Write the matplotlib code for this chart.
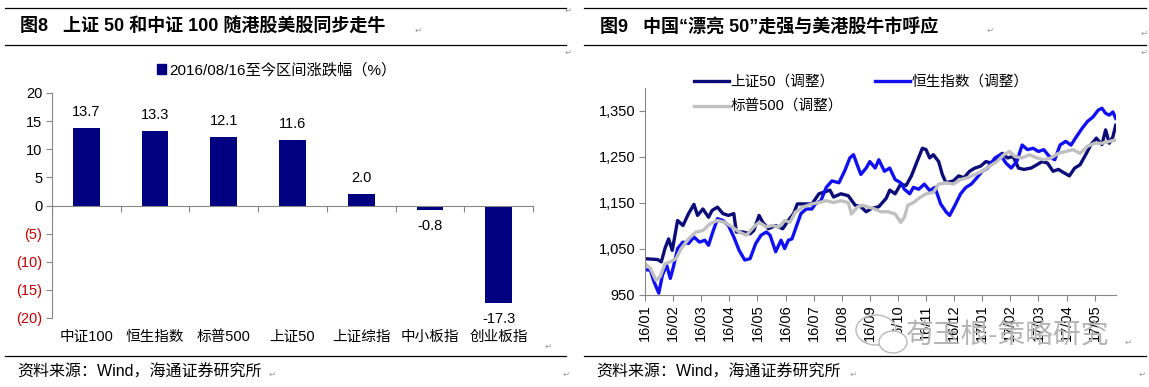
import numpy as np
import matplotlib.pyplot as plt
from matplotlib.patches import Patch, Ellipse
from matplotlib.lines import Line2D
from matplotlib.ticker import FuncFormatter

plt.rcParams['font.family'] = ['Liberation Sans', 'Noto Sans CJK SC']

## data: left chart
categories = ['中证100', '恒生指数', '标普500', '上证50', '上证综指', '中小板指', '创业板指']
changes = [13.7, 13.3, 12.1, 11.6, 2.0, -0.8, -17.3]
bar_label = '2016/08/16至今区间涨跌幅（%）'

## data: right chart (x = months since 2016-01)
month_labels = ['16/01', '16/02', '16/03', '16/04', '16/05', '16/06', '16/07', '16/08', '16/09',
                '16/10', '16/11', '16/12', '17/01', '17/02', '17/03', '17/04', '17/05']

sz50_t = [0.00, 0.45, 0.58, 0.71, 0.84, 0.97, 1.16, 1.35, 1.55, 1.74, 1.87, 2.06, 2.26, 2.39, 2.58,
          2.77, 2.97, 3.16, 3.25, 3.48, 3.74, 3.87, 4.06, 4.19, 4.39, 4.65, 4.90, 5.10, 5.29, 5.42,
          5.94, 6.19, 6.58, 6.71, 6.97, 7.23, 7.48, 7.68, 7.87, 8.06, 8.32, 8.58, 8.71, 8.90, 9.10,
          9.29, 9.48, 9.68, 9.87, 10.00, 10.13, 10.26, 10.45, 10.58, 10.71, 10.97, 11.16, 11.35,
          11.55, 11.74, 11.94, 12.13, 12.32, 12.52, 12.71, 12.90, 13.10, 13.29, 13.48, 13.74, 13.94,
          14.13, 14.32, 14.52, 14.71, 14.90, 15.10, 15.29, 15.48, 15.68, 15.87, 16.06, 16.26, 16.39,
          16.52, 16.65, 16.75]
sz50_v = [1029, 1027, 1022, 1051, 1072, 1047, 1112, 1101, 1127, 1147, 1123, 1137, 1119, 1134, 1141,
          1127, 1123, 1127, 1087, 1087, 1083, 1090, 1123, 1108, 1094, 1101, 1094, 1112, 1127, 1148,
          1148, 1170, 1178, 1163, 1170, 1166, 1145, 1142, 1131, 1138, 1142, 1160, 1178, 1170, 1191,
          1188, 1209, 1240, 1269, 1266, 1248, 1255, 1240, 1212, 1194, 1198, 1209, 1205,
          1219, 1226, 1230, 1240, 1237, 1248, 1258, 1248, 1251, 1226, 1223, 1226, 1233,
          1240, 1237, 1219, 1223, 1216, 1209, 1226, 1233, 1255, 1277, 1291, 1277, 1309,
          1280, 1294, 1319]

hsi_t = [0.00, 0.19, 0.32, 0.49, 0.62, 0.77, 0.90, 1.01, 1.16, 1.35, 1.55, 1.74, 1.94, 2.13, 2.26,
         2.39, 2.58, 2.77, 2.97, 3.16, 3.35, 3.55, 3.74, 3.94, 4.13, 4.32, 4.45, 4.65, 4.84, 4.97,
         5.10, 5.23, 5.42, 5.55, 5.74, 5.94, 6.06, 6.26, 6.45, 6.65, 6.90, 7.10, 7.29, 7.42, 7.55,
         7.68, 7.87, 8.00, 8.19, 8.32, 8.52, 8.71, 8.90, 9.10, 9.23, 9.42, 9.55, 9.74, 9.94, 10.13,
         10.32, 10.52, 10.71, 10.84, 11.03, 11.23, 11.42, 11.61, 11.81, 12.00, 12.19, 12.45, 12.65,
         12.84, 13.03, 13.23, 13.42, 13.61, 13.81, 14.00, 14.19, 14.39, 14.58, 14.77, 14.97, 15.16,
         15.35, 15.55, 15.74, 15.94, 16.13, 16.26, 16.39, 16.52, 16.65, 16.75]
hsi_v = [1005, 1004, 979, 954, 993, 1015, 986, 1011, 1051, 1065, 1062, 1076, 1065, 1069, 1058,
         1083, 1116, 1112, 1101, 1076, 1047, 1026, 1029, 1062, 1080, 1087, 1080, 1044, 1069, 1051,
         1069, 1072, 1105, 1127, 1137, 1137, 1148, 1155, 1184, 1198, 1194, 1219, 1248, 1255, 1233,
         1212, 1226, 1240, 1226, 1244, 1219, 1226, 1201, 1194, 1180, 1170, 1184, 1180, 1191, 1177,
         1184, 1148, 1131, 1123, 1145, 1170, 1184, 1191, 1205, 1219, 1226, 1248, 1255,
         1237, 1226, 1240, 1276, 1266, 1269, 1262, 1266, 1251, 1244, 1276, 1284, 1276,
         1294, 1312, 1327, 1337, 1352, 1356, 1345, 1341, 1348, 1334]

spx_t = [0.00, 0.19, 0.39, 0.54, 0.71, 0.90, 1.10, 1.29, 1.55, 1.81, 2.06, 2.32, 2.58, 2.84, 3.10,
         3.35, 3.61, 3.87, 4.06, 4.32, 4.52, 4.77, 4.97, 5.16, 5.35, 5.61, 5.94, 6.19, 6.45, 6.71,
         6.97, 7.23, 7.35, 7.55, 7.74, 7.94, 8.13, 8.39, 8.65, 8.90, 9.10, 9.23, 9.35, 9.55, 9.81,
         10.00, 10.26, 10.45, 10.71, 10.97, 11.23, 11.48, 11.74, 12.00, 12.26, 12.52, 12.77, 12.97,
         13.16, 13.42, 13.68, 13.94, 14.19, 14.45, 14.71, 14.97, 15.23, 15.48, 15.74, 16.00, 16.26,
         16.52, 16.75]
spx_v = [1018, 1008, 982, 990, 1018, 1022, 1029, 1051, 1072, 1087, 1090, 1105, 1112, 1108, 1098,
         1087, 1080, 1098, 1108, 1098, 1101, 1098, 1112, 1108, 1130, 1141, 1148, 1151, 1155, 1151,
         1155, 1151, 1126, 1141, 1145, 1141, 1138, 1131, 1131, 1126, 1108, 1119, 1145, 1151, 1163,
         1170, 1173, 1191, 1194, 1191, 1201, 1205, 1212, 1219, 1230, 1240, 1255, 1262,
         1251, 1248, 1255, 1248, 1244, 1248, 1258, 1262, 1266, 1258, 1273, 1280, 1280,
         1284, 1287]

W, H = 1149, 387
def fx(px):
    return px / W
def fy(py):
    return 1 - py / H

NAVY = '#000080'
AXC = '#868686'

fig = plt.figure(figsize=(W / 100, H / 100), dpi=100)

## header / footer rules and titles
for x0, x1 in [(5, 566), (584, 1146)]:
    for yy in [8, 45, 356]:
        fig.add_artist(Line2D([fx(x0), fx(x1)], [fy(yy), fy(yy)], color='black', lw=0.9))

fig.text(fx(20), fy(27), '图8   上证 50 和中证 100 随港股美股同步走牛', fontsize=13,
         fontweight='bold', va='center')
fig.text(fx(600), fy(27), '图9   中国“漂亮 50”走强与美港股牛市呼应', fontsize=13,
         fontweight='bold', va='center')
fig.text(fx(17), fy(372), '资料来源：Wind，海通证券研究所', fontsize=11.5, va='center')
fig.text(fx(596), fy(372), '资料来源：Wind，海通证券研究所', fontsize=11.5, va='center')

# paragraph marks
for px, py in [(418, 30), (568, 10), (568, 52), (548, 346), (272, 374), (566, 374),
               (990, 30), (1144, 33), (1144, 52), (1128, 342), (853, 374), (1142, 374)]:
    fig.text(fx(px), fy(py), '↵', fontsize=6, color='#999999', va='center', ha='center',
             family='DejaVu Sans')

## PLOT 1: bars
ax1 = fig.add_axes([fx(52), fy(318), (533 - 52) / W, (318 - 93) / H])
xpos = np.arange(len(categories))
ax1.bar(xpos, changes, width=0.39, color=NAVY, zorder=2)
ax1.set_xlim(-0.5, len(categories) - 0.5)
ax1.set_ylim(-20, 20)
for s in ['top', 'right']:
    ax1.spines[s].set_visible(False)
ax1.spines['bottom'].set_position(('data', 0))
ax1.spines['bottom'].set_color(AXC)
ax1.spines['left'].set_color(AXC)
ax1.set_yticks(np.arange(-20, 21, 5))
ax1.yaxis.set_major_formatter(FuncFormatter(lambda v, p: f'({abs(v):.0f})' if v < 0 else f'{v:.0f}'))
ax1.tick_params(axis='y', length=4, color=AXC, labelsize=10.5, pad=3)
for lab, v in zip(ax1.get_yticklabels(), np.arange(-20, 21, 5)):
    if v < 0:
        lab.set_color('#C00000')
ax1.set_xticks(np.arange(-0.5, len(categories), 1))
ax1.set_xticklabels([])
ax1.tick_params(axis='x', length=4, color=AXC)
for i, (c, v) in enumerate(zip(categories, changes)):
    ax1.annotate(f'{v:.1f}', (i, v), xytext=(0, 11.5 if v > 0 else -11.5),
                 textcoords='offset points', ha='center', va='center', fontsize=10.5)
    ax1.text(i, -0.085, c, transform=ax1.get_xaxis_transform(), ha='center', va='center',
             fontsize=10.5)
fig.legend(handles=[Patch(color=NAVY)], labels=[bar_label], loc='center left',
           bbox_to_anchor=(fx(157), fy(70)), frameon=False, handlelength=0.6, handleheight=0.6,
           handletextpad=0.2, borderpad=0, borderaxespad=0, fontsize=11)

## PLOT 2: lines
ax2 = fig.add_axes([fx(645), fy(295), (1116 - 645) / W, (295 - 88) / H])
ax2.plot(sz50_t, sz50_v, color='#0C0C78', lw=2.4, label='上证50（调整）')
ax2.plot(hsi_t, hsi_v, color='#1010F2', lw=2.4, label='恒生指数（调整）')
ax2.plot(spx_t, spx_v, color='#C0C0C0', lw=2.4, label='标普500（调整）')
ax2.set_xlim(0, 16.76)
ax2.set_ylim(950, 1400)
ax2.set_yticks(np.arange(950, 1351, 100))
ax2.yaxis.set_major_formatter(FuncFormatter(lambda v, p: f'{v:,.0f}'))
ax2.set_xticks(np.arange(len(month_labels)))
ax2.set_xticklabels(month_labels, rotation=90)
for s in ['top', 'right']:
    ax2.spines[s].set_visible(False)
for s in ['left', 'bottom']:
    ax2.spines[s].set_color(AXC)
ax2.tick_params(length=4, color=AXC, labelsize=10.5, pad=3)

handles, labels = ax2.get_legend_handles_labels()
order = [0, 2, 1]
fig.legend([handles[k] for k in order], [labels[k] for k in order], ncol=2, loc='upper left',
           bbox_to_anchor=(fx(694), fy(75)), frameon=False, handlelength=2.4, handletextpad=0.1,
           columnspacing=2.2, labelspacing=0.75, borderpad=0, borderaxespad=0, fontsize=10.5)

## watermark (drawn behind the tick labels area, as in the source image)
fig.add_artist(Ellipse((fx(876), fy(330)), 40 / W, 30 / H, fc='none', ec='#B8B8B8', lw=1))
fig.add_artist(Ellipse((fx(893), fy(342)), 28 / W, 22 / H, fc='white', ec='#B8B8B8', lw=1))
fig.text(fx(905), fy(336), '苟玉根-策略研究', fontsize=20, color='#B4B4B4', va='center')

plt.savefig('out.png', dpi=100)
